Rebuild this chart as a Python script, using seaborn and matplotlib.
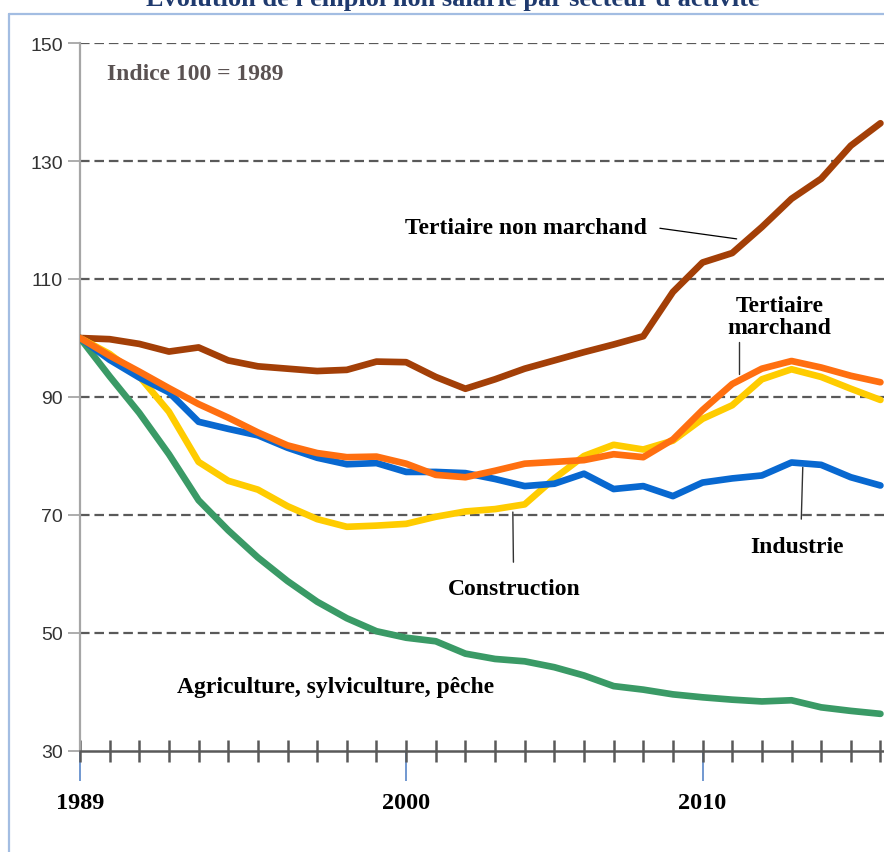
import numpy as np
import pandas as pd
import matplotlib
matplotlib.use('Agg')
import matplotlib.pyplot as plt
import seaborn as sns
from matplotlib.ticker import FixedLocator, MultipleLocator
from matplotlib.lines import Line2D

# DATA (indice 100 = 1989)
years = list(range(1989, 2017))
tertiaire_non_marchand = [100, 99.8, 99.0, 97.7, 98.4, 96.2, 95.2, 94.8, 94.4, 94.6, 96.0, 95.9, 93.4, 91.4,
                          93.0, 94.8, 96.2, 97.6, 98.9, 100.3, 107.8, 112.8, 114.4, 118.8, 123.6, 127.0, 132.6, 136.4]
tertiaire_marchand = [100, 97.0, 94.3, 91.5, 88.8, 86.5, 84.0, 81.8, 80.5, 79.8, 79.9, 78.7, 76.8, 76.4,
                      77.5, 78.7, 79.0, 79.3, 80.3, 79.8, 82.8, 87.8, 92.2, 94.8, 96.1, 95.0, 93.6, 92.5]
construction = [100, 97.3, 93.5, 87.5, 79.0, 75.8, 74.3, 71.5, 69.3, 68.0, 68.2, 68.5, 69.7, 70.6,
                71.0, 71.8, 76.2, 80.0, 81.9, 81.1, 82.6, 86.3, 88.6, 93.0, 94.7, 93.4, 91.4, 89.5]
industrie = [100, 96.3, 93.3, 90.8, 85.8, 84.6, 83.5, 81.4, 79.7, 78.6, 78.8, 77.3, 77.3, 77.1,
             76.1, 74.9, 75.3, 77.0, 74.4, 74.9, 73.2, 75.5, 76.2, 76.7, 78.9, 78.5, 76.4, 75.0]
agriculture = [100, 93.5, 87.3, 80.3, 72.5, 67.4, 62.8, 58.8, 55.3, 52.5, 50.3, 49.2, 48.6, 46.5,
               45.6, 45.2, 44.2, 42.8, 41.0, 40.4, 39.6, 39.1, 38.7, 38.4, 38.6, 37.4, 36.8, 36.3]

series_names = ['Tertiaire non marchand', 'Agriculture', 'Construction', 'Industrie', 'Tertiaire marchand']
series_values = [tertiaire_non_marchand, agriculture, construction, industrie, tertiaire_marchand]
colors = ['#a33f07', '#3a9a66', '#ffcc00', '#0868d0', '#ff6f10']

ytick_values = [30, 50, 70, 90, 110, 130, 150]
xtick_labels = [1989, 2000, 2010]

df = pd.DataFrame({
    'annee': years * len(series_names),
    'indice': sum(series_values, []),
    'secteur': [n for n in series_names for _ in years],
})

sns.set_style('white')
plt.rcParams['font.family'] = ['Liberation Serif', 'DejaVu Serif']

fig = plt.figure(figsize=(8.84, 8.53), dpi=100)
ax = fig.add_axes([80 / 884, 1 - 752 / 853, 1 - 80 / 884, (752 - 44) / 853])

# dashed horizontal grid
for v in ytick_values[1:]:
    ax.axhline(v, color='#595959', lw=1.6, linestyle=(0, (4.3, 2.2)), zorder=1)

sns.lineplot(data=df, x='annee', y='indice', hue='secteur', hue_order=series_names,
             palette=dict(zip(series_names, colors)), linewidth=4.8, legend=False, ax=ax,
             solid_joinstyle='round', solid_capstyle='round', zorder=3)

ax.set_xlim(1989, 2016.12)
ax.set_ylim(30, 150)
ax.set_xlabel('')
ax.set_ylabel('')

for s in ['top', 'right']:
    ax.spines[s].set_visible(False)
ax.spines['left'].set_color('#a6a6a6')
ax.spines['left'].set_linewidth(1.6)
ax.spines['bottom'].set_color('#595959')
ax.spines['bottom'].set_linewidth(1.8)
ax.spines['bottom'].set_zorder(4)

# y axis
ax.yaxis.set_major_locator(FixedLocator(ytick_values))
ax.tick_params(axis='y', which='major', left=True, direction='out', length=8.5, width=1.3,
               color='#a6a6a6', pad=4, labelsize=14, labelcolor='#333333')
for lab in ax.get_yticklabels():
    lab.set_family(['Liberation Sans', 'DejaVu Sans'])

# x axis: blue major ticks, grey year ticks
ax.xaxis.set_major_locator(FixedLocator(xtick_labels))
ax.xaxis.set_minor_locator(MultipleLocator(1))
ax.xaxis.remove_overlapping_locs = False
ax.set_xticklabels([str(y) for y in xtick_labels], fontsize=17.5, fontweight='bold', color='black')
ax.tick_params(axis='x', which='major', bottom=True, direction='out', length=21.5, width=1.1,
               color='#4a7cc4', pad=8)
ax.tick_params(axis='x', which='minor', bottom=True, direction='inout', length=16, width=1.8,
               color='#595959')

# annotations
txt = dict(fontsize=17, fontweight='bold', color='black', zorder=5)
ax.text(1989.9, 144.8, 'Indice 100 = 1989', ha='left', va='center', fontsize=17,
        fontweight='bold', color='#5a5252')
ax.text(2004.04, 118.8, 'Tertiaire non marchand', ha='center', va='center', **txt)
ax.add_line(Line2D([2008.56, 2011.15], [118.6, 116.8], color='black', lw=0.9))
ax.text(2012.6, 103.6, 'Tertiaire\nmarchand', ha='center', va='center', linespacing=1.05, **txt)
ax.add_line(Line2D([2011.24, 2011.24], [99.3, 93.9], color='#333333', lw=1.0))
ax.text(2003.64, 57.5, 'Construction', ha='center', va='center', **txt)
ax.add_line(Line2D([2003.6, 2003.62], [70.5, 62.0], color='#333333', lw=1.0))
ax.text(2013.2, 64.6, 'Industrie', ha='center', va='center', **txt)
ax.add_line(Line2D([2013.38, 2013.33], [78.1, 69.3], color='#333333', lw=1.0))
ax.text(1997.63, 40.85, 'Agriculture, sylviculture, pêche', ha='center', va='center', **txt)

# frame and title (clipped at the top, as in the source)
fig.add_artist(Line2D([9 / 884, 9 / 884], [0, 1 - 15 / 853], color='#a3bde2', lw=1.6))
fig.add_artist(Line2D([9 / 884, 1], [1 - 15 / 853, 1 - 15 / 853], color='#a3bde2', lw=1.6))
fig.text(453 / 884, 1 - 6 / 853, "Évolution de l'emploi non salarié par secteur d'activité",
         ha='center', va='baseline', fontsize=19, fontweight='bold', color='#1f3a6e')

fig.savefig('out.png', dpi=100)
